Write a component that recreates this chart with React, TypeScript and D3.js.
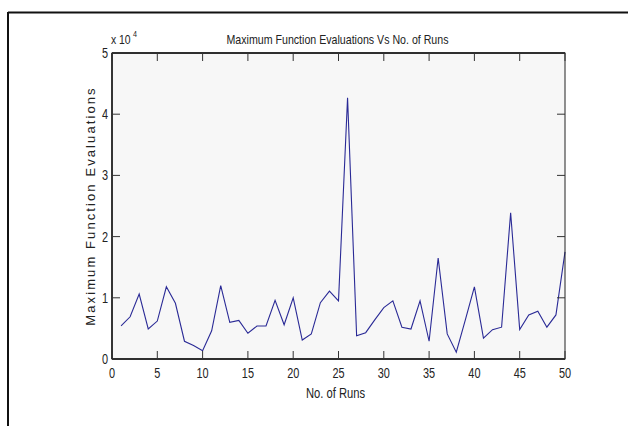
import React from "react";
import * as d3 from "d3";

const runs = d3.range(1, 51);
const evaluations = [
  5400, 6900, 10600, 4900, 6200, 11800, 9100, 2900, 2200, 1350,
  4600, 12000, 6000, 6300, 4200, 5400, 5400, 9600, 5600, 10000,
  3100, 4100, 9200, 11100, 9500, 42700, 3800, 4300, 6400, 8400,
  9500, 5200, 4900, 9500, 2900, 16500, 4100, 1100, 6400, 11800,
  3400, 4800, 5200, 23900, 4800, 7200, 7800, 5200, 7200, 17500,
];
const xTicks = d3.range(0, 51, 5);
const yTicks = [0, 1, 2, 3, 4, 5];

const W = 628;
const H = 426;
const left = 112;
const right = 565;
const top = 53;
const bottom = 359;

export default function App() {
  const x = d3.scaleLinear().domain([0, 50]).range([left, right]);
  const y = d3.scaleLinear().domain([0, 50000]).range([bottom, top]);
  const line = d3
    .line<number>()
    .x((_, i) => x(runs[i]))
    .y((d) => y(d));
  const font = "'Liberation Sans', Arial, sans-serif";
  const tickLen = 8;
  return (
    <svg
      width={W}
      height={H}
      style={{ position: "absolute", left: 0, top: 0, background: "#fff" }}
      fontFamily={font}
    >
      <rect x={0} y={0} width={W} height={H} fill="#fff" />
      {/* frame */}
      <line x1={8} y1={12.5} x2={W} y2={12.5} stroke="#111" strokeWidth={2} />
      <line x1={8} y1={12} x2={8} y2={H} stroke="#111" strokeWidth={2} />
      {/* plot area */}
      <rect x={left} y={top} width={right - left} height={bottom - top} fill="#f7f7f7" />
      <path d={line(evaluations) || ""} fill="none" stroke="#2a2a96" strokeWidth={1.1} />
      {/* box */}
      <rect x={left} y={top} width={right - left} height={bottom - top} fill="none" stroke="#222" strokeWidth={1} />
      <line x1={left} y1={top} x2={right} y2={top} stroke="#111" strokeWidth={1.6} />
      <line x1={left} y1={bottom} x2={right} y2={bottom} stroke="#111" strokeWidth={1.4} />
      <line x1={left} y1={top} x2={left} y2={bottom} stroke="#111" strokeWidth={1.4} />
      {xTicks.map((t) => (
        <g key={"x" + t}>
          <line x1={x(t)} x2={x(t)} y1={bottom} y2={bottom - tickLen} stroke="#333" />
          <line x1={x(t)} x2={x(t)} y1={top} y2={top + tickLen} stroke="#333" />
          <text
            transform={`translate(${x(t)},${bottom + 19}) scale(0.78,1)`}
            textAnchor="middle"
            fontSize={14}
            fill="#222"
          >
            {t}
          </text>
        </g>
      ))}
      {yTicks.map((t) => (
        <g key={"y" + t}>
          <line x1={left} x2={left + tickLen} y1={y(t * 10000)} y2={y(t * 10000)} stroke="#333" />
          <line x1={right} x2={right - tickLen} y1={y(t * 10000)} y2={y(t * 10000)} stroke="#333" />
          <text
            transform={`translate(${left - 4},${y(t * 10000) + 5}) scale(0.78,1)`}
            textAnchor="end"
            fontSize={14}
            fill="#222"
          >
            {t}
          </text>
        </g>
      ))}
      <text transform={`translate(${left - 1},${top - 9}) scale(0.8,1)`} fontSize={13} fill="#222">
        x 10
      </text>
      <text transform={`translate(${left + 21},${top - 16}) scale(0.8,1)`} fontSize={9} fill="#222">
        4
      </text>
      <text
        x={(left + right) / 2 - 1}
        y={top - 9}
        textAnchor="middle"
        fontSize={13.5}
        fill="#222"
        textLength={222}
        lengthAdjust="spacingAndGlyphs"
      >
        Maximum Function Evaluations Vs No. of Runs
      </text>
      <text
        transform={`translate(${(left + right) / 2 - 3},${bottom + 39}) scale(0.8,1)`}
        textAnchor="middle"
        fontSize={14}
        fill="#222"
      >
        No. of Runs
      </text>
      <text
        transform={`translate(${left - 17},${(top + bottom) / 2}) rotate(-90)`}
        textAnchor="middle"
        fontSize={13}
        fill="#222"
        letterSpacing={2.1}
      >
        Maximum Function Evaluations
      </text>
    </svg>
  );
}
